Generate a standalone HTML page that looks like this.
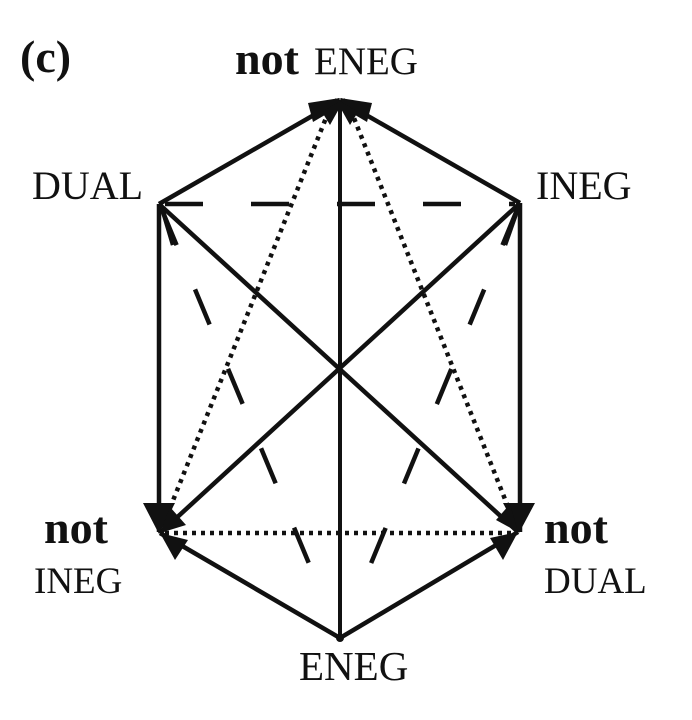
<!DOCTYPE html>
<html><head><style>
html,body{margin:0;padding:0;background:#fff;}
svg{display:block;}
text{font-family:"Liberation Serif",serif;fill:#111;}
</style></head><body>
<svg width="692" height="720" viewBox="0 0 692 720" xmlns="http://www.w3.org/2000/svg">
<g stroke="#111" fill="none" stroke-linecap="butt">
<line x1="340" y1="100" x2="340" y2="638" stroke-width="4"/>
<line x1="159" y1="204" x2="340" y2="100" stroke-width="4.5"/>
<line x1="520" y1="203" x2="340" y2="100" stroke-width="4.5"/>
<line x1="159" y1="204" x2="159" y2="532" stroke-width="4.5"/>
<line x1="520" y1="203" x2="520" y2="532" stroke-width="4.5"/>
<line x1="159" y1="204" x2="518" y2="532" stroke-width="4.5"/>
<line x1="520" y1="203" x2="160" y2="533" stroke-width="4.5"/>
<line x1="340" y1="638" x2="160" y2="533" stroke-width="4.5"/>
<line x1="340" y1="638" x2="518" y2="532" stroke-width="4.5"/>
<g stroke-width="4.5" stroke-dasharray="4 5">
<line x1="160" y1="533" x2="330" y2="108"/>
<line x1="518" y1="532" x2="350" y2="108"/>
<line x1="165" y1="533" x2="515" y2="533"/>
</g>
<g stroke-width="4.5" stroke-dasharray="38 48">
<line x1="165" y1="204" x2="515" y2="204"/>
<line x1="162" y1="210" x2="320" y2="590"/>
<line x1="517" y1="210" x2="360" y2="590"/>
</g>
<line x1="162" y1="208" x2="173" y2="245" stroke-width="4.5"/>
<line x1="518" y1="208" x2="505" y2="245" stroke-width="4.5"/>
</g>
<g fill="#111">
<polygon points="340,98 308,103 313,122 330,112"/>
<polygon points="340,98 372,103 367,122 350,112"/>
<polygon points="322,112 345,98 330,125"/>
<polygon points="358,112 335,98 350,125"/>
<polygon points="159,534 143,503 175,503"/>
<polygon points="160,533 170,507 186,525"/>
<polygon points="160,533 188,540 175,560"/>
<polygon points="519,533 503,503 535,503"/>
<polygon points="518,532 496,520 510,504"/>
<polygon points="518,532 490,538 503,560"/>
<circle cx="340" cy="638" r="4"/>
</g>
<text x="20" y="72" font-size="46" font-weight="bold">(c)</text>
<text x="235" y="74" font-size="46" font-weight="bold">not</text>
<text x="314" y="74" font-size="39">ENEG</text>
<text x="32" y="199" font-size="40">DUAL</text>
<text x="536" y="199" font-size="40">INEG</text>
<text x="44" y="543" font-size="46" font-weight="bold">not</text>
<text x="34" y="593" font-size="37">INEG</text>
<text x="544" y="543" font-size="46" font-weight="bold">not</text>
<text x="544" y="593" font-size="37">DUAL</text>
<text x="299" y="680" font-size="41">ENEG</text>
</svg>
</body></html>
